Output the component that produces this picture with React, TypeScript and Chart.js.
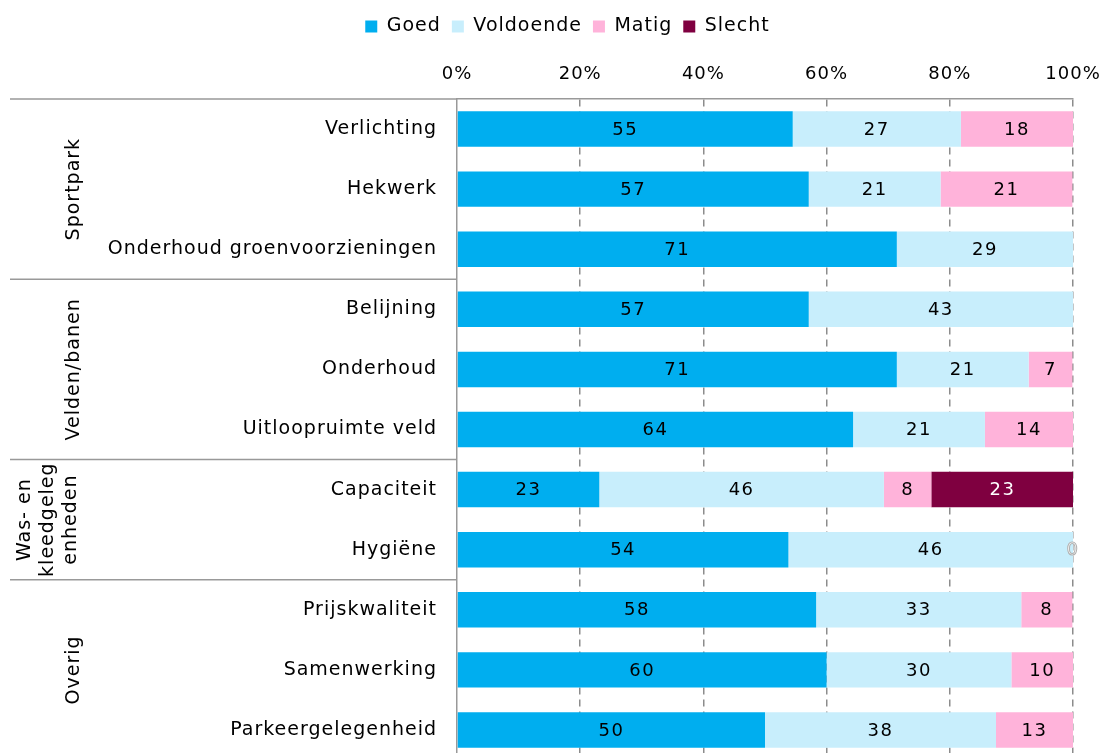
import React, { useEffect, useRef } from "react";
import { Chart, registerables } from "chart.js";

Chart.register(...registerables);

const categories = [
  "Verlichting",
  "Hekwerk",
  "Onderhoud groenvoorzieningen",
  "Belijning",
  "Onderhoud",
  "Uitloopruimte veld",
  "Capaciteit",
  "Hygiëne",
  "Prijskwaliteit",
  "Samenwerking",
  "Parkeergelegenheid",
];
// Percentages (labels show rounded values)
const goed = [54.5, 57.1, 71.4, 57.1, 71.4, 64.3, 23.1, 53.8, 58.3, 60, 50];
const voldoende = [27.3, 21.4, 28.6, 42.9, 21.4, 21.4, 46.2, 46.2, 33.3, 30, 37.5];
const matig = [18.2, 21.4, null, null, 7.1, 14.3, 7.7, null, 8.3, 10, 12.5];
const slecht = [null, null, null, null, null, null, 23.1, 0, null, null, null];
const seriesNames = ["Goed", "Voldoende", "Matig", "Slecht"];
const seriesValues = [goed, voldoende, matig, slecht];
const seriesColors = ["#00AEEF", "#C8EEFC", "#FFB3DA", "#7F0040"];
const labelColors = ["#000000", "#000000", "#000000", "#FFFFFF"];
const groupNames = [["Sportpark"], ["Velden/banen"], ["Was- en", "kleedgeleg", "enheden"], ["Overig"]];
const groupStart = [0, 3, 6, 8];
const groupEnd = [2, 5, 7, 10];

const FONT = "'DejaVu Sans', Verdana, sans-serif";
const SPACING = "1px";

const spacingPlugin = {
  id: "spacing",
  beforeUpdate(chart: any) {
    chart.ctx.letterSpacing = SPACING;
  },
  beforeDraw(chart: any) {
    chart.ctx.letterSpacing = SPACING;
  },
};

const groupPlugin = {
  id: "groups",
  afterDraw(chart: any) {
    const { ctx, chartArea, scales } = chart;
    const y = scales.y;
    const half = (y.getPixelForValue(1) - y.getPixelForValue(0)) / 2;
    ctx.save();
    ctx.letterSpacing = "1px";
    ctx.strokeStyle = "#999999";
    ctx.lineWidth = 1.5;
    for (let g = 0; g < groupNames.length; g++) {
      const top = y.getPixelForValue(groupStart[g]) - half;
      const bottom = y.getPixelForValue(groupEnd[g]) + half;
      ctx.beginPath();
      ctx.moveTo(10, top);
      ctx.lineTo(chartArea.left, top);
      ctx.stroke();
      const cy = (top + bottom) / 2;
      const lines = groupNames[g];
      ctx.fillStyle = "#000";
      ctx.font = `19px ${FONT}`;
      ctx.textAlign = "center";
      ctx.textBaseline = "middle";
      const lh = 23;
      const baseX = lines.length === 1 ? 74 : 48 - ((lines.length - 1) * lh) / 2;
      for (let i = 0; i < lines.length; i++) {
        ctx.save();
        ctx.translate(baseX + i * lh, cy);
        ctx.rotate(-Math.PI / 2);
        ctx.fillText(lines[i], 0, 0);
        ctx.restore();
      }
    }
    ctx.restore();
  },
};

const labelPlugin = {
  id: "barLabels",
  afterDatasetsDraw(chart: any) {
    const { ctx } = chart;
    ctx.save();
    ctx.letterSpacing = "1.5px";
    ctx.font = `18px ${FONT}`;
    ctx.textAlign = "center";
    ctx.textBaseline = "middle";
    chart.data.datasets.forEach((ds: any, di: number) => {
      const meta = chart.getDatasetMeta(di);
      meta.data.forEach((el: any, i: number) => {
        const v = ds.data[i];
        if (v === null || v === undefined) return;
        if (v === 0) {
          ctx.lineWidth = 1;
          ctx.strokeStyle = "#B0B0B0";
          ctx.fillStyle = "#FFFFFF";
          ctx.fillText("0", el.x, el.y + 1);
          ctx.strokeText("0", el.x, el.y + 1);
          return;
        }
        ctx.fillStyle = labelColors[di];
        ctx.fillText(String(Math.round(v)), (el.x + el.base) / 2, el.y + 1);
      });
    });
    ctx.restore();
  },
};

export default function App() {
  const ref = useRef<HTMLCanvasElement>(null);
  useEffect(() => {
    document.body.style.margin = "0";
    document.body.style.overflow = "hidden";
    document.documentElement.style.overflow = "hidden";
    const chart = new Chart(ref.current as HTMLCanvasElement, {
      type: "bar",
      data: {
        labels: categories,
        datasets: seriesNames.map((name, i) => ({
          label: name,
          data: seriesValues[i] as any,
          backgroundColor: seriesColors[i],
          borderWidth: 0,
          barPercentage: 0.59,
          categoryPercentage: 1,
        })),
      },
      options: {
        indexAxis: "y",
        responsive: false,
        animation: false,
        layout: { padding: { top: 6, right: 30, left: 62, bottom: 0 } },
        plugins: {
          legend: {
            position: "top",
            labels: {
              boxWidth: 12,
              boxHeight: 12,
              padding: 11,
              color: "#000",
              font: { family: FONT, size: 19 },
            },
          },
          tooltip: { enabled: false },
        },
        scales: {
          x: {
            position: "top",
            stacked: true,
            min: 0,
            max: 100,
            afterFit: (s: any) => {
              s.height = 53;
              s.paddingLeft = 0;
              s.paddingRight = 0;
            },
            ticks: {
              stepSize: 20,
              padding: 14,
              color: "#000",
              font: { family: FONT, size: 18 },
              callback: (v: any) => v + "%",
            },
            grid: {
              drawTicks: false,
              color: (c: any) => (c.index === 0 ? "rgba(0,0,0,0)" : "#8C8C8C"),
              lineWidth: 1.5,
            },
            border: { display: true, color: "#999999", width: 1.5, dash: [7, 5] },
          },
          y: {
            stacked: true,
            afterFit: (s: any) => {
              s.width = 457 - 62;
              s.paddingTop = 0;
              s.paddingBottom = 0;
            },
            ticks: {
              padding: 20,
              color: "#000",
              font: { family: FONT, size: 19 },
            },
            grid: { display: false, drawTicks: false },
            border: { display: true, color: "#999999", width: 1.5 },
          },
        },
      },
      plugins: [spacingPlugin, groupPlugin, labelPlugin],
    } as any);
    return () => chart.destroy();
  }, []);
  return (
    <div style={{ width: 1103, height: 753, overflow: "hidden", background: "#fff" }}>
      <canvas ref={ref} width={1103} height={760} />
    </div>
  );
}
